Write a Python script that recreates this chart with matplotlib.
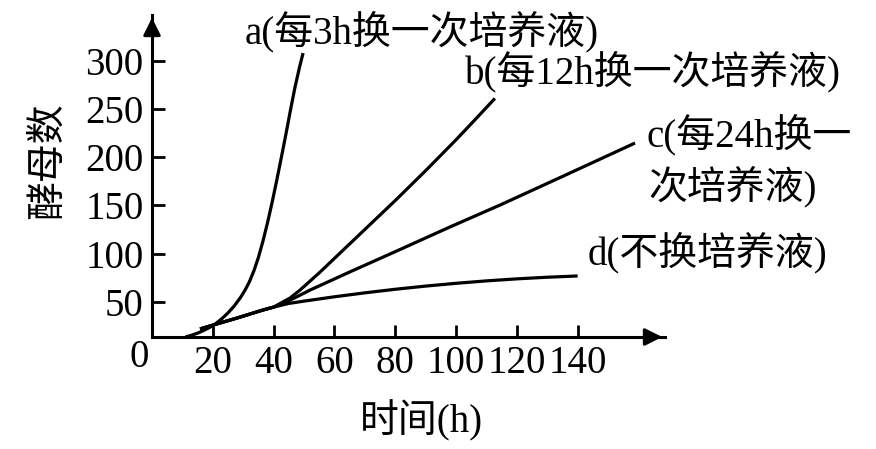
import matplotlib
matplotlib.use("Agg")
import matplotlib.pyplot as plt

plt.rcParams['font.family'] = ['Liberation Serif', 'Noto Sans CJK SC']

# ==========================================
# Data (time in h, yeast count)
# ==========================================
# common start of curves b, c, d
shared_t = [15.8, 20.1, 28, 36.5, 40]
shared_y = [21.8, 25.9, 33.2, 41.5, 44.5]

a_t = [11, 13, 15, 17, 19, 21, 23, 25, 27, 29, 30.5, 32, 33.5, 35, 36.5, 38,
       39.5, 41, 42.5, 44, 45.5, 47, 48.5, 49.7]
a_y = [13.5, 15.3, 17.5, 20.3, 23.5, 27.5, 32.5, 38.5, 45.5, 54, 61.5, 70.5,
       82, 96, 113, 132, 153, 175.5, 199, 223, 248, 272, 293, 308]

b_t = shared_t + [45.4, 48.7, 55, 60, 70, 80, 90, 100, 106, 112.8]
b_y = shared_y + [53.9, 62.2, 80, 95, 125, 155, 186, 218, 238, 261]

c_t = shared_t + [45, 52, 65, 80, 98, 114.5, 135, 158.9]
c_y = shared_y + [51, 62.2, 80.9, 102, 127.6, 150.4, 180, 214.7]

d_t = shared_t + [45, 50, 60, 70, 80, 90, 100, 110, 120, 130, 140]
d_y = shared_y + [48.3, 50.7, 55.2, 59.3, 63, 66.3, 69.2, 71.7, 73.8, 75.5, 76.8]

x_ticks = [20, 40, 60, 80, 100, 120, 140]
y_ticks = [50, 100, 150, 200, 250, 300]

FS = 28

# ==========================================
# Figure
# ==========================================
fig = plt.figure(figsize=(8.76, 4.49), dpi=100)
ax = fig.add_axes([152 / 876, 112 / 449, 513 / 876, 322 / 449])
ax.set_xlim(0, 168.75)
ax.set_ylim(13.5, 347.5)

for t, y in [(a_t, a_y), (b_t, b_y), (c_t, c_y), (d_t, d_y)]:
    ax.plot(t, y, color='black', lw=2.3, solid_capstyle='butt', solid_joinstyle='round')

# axes: only left/bottom with arrow heads
for side in ['top', 'right']:
    ax.spines[side].set_visible(False)
for side in ['left', 'bottom']:
    ax.spines[side].set_linewidth(2.2)
ax.annotate('', xy=(1.0, 0), xytext=(0.96, 0), xycoords='axes fraction',
            arrowprops=dict(arrowstyle='-|>', color='black', lw=2.2, mutation_scale=26))
ax.annotate('', xy=(0, 1.0), xytext=(0, 0.94), xycoords='axes fraction',
            arrowprops=dict(arrowstyle='-|>', color='black', lw=2.2, mutation_scale=26))

ax.set_xticks(x_ticks)
ax.set_yticks(y_ticks)
ax.tick_params(direction='in', length=9, width=2, labelsize=FS, pad=6)

ax.text(-4.3, -7.3, '0', fontsize=FS, ha='center', va='center', clip_on=False)

ax.set_xlabel('时间(h)', fontsize=FS, va='center')
ax.xaxis.set_label_coords(0.525, -0.261)
ax.set_ylabel('酵母数', fontsize=FS, va='center')
ax.yaxis.set_label_coords(-0.2, 0.547)

# curve labels
ax.text(30.6, 330, 'a(每3h换一次培养液)', fontsize=FS, ha='left', va='center', clip_on=False)
ax.text(103, 288.4, 'b(每12h换一次培养液)', fontsize=FS, ha='left', va='center', clip_on=False)
ax.text(162.8, 223, 'c(每24h换一', fontsize=FS, ha='left', va='center', clip_on=False)
ax.text(163.4, 168, '次培养液)', fontsize=FS, ha='left', va='center', clip_on=False)
ax.text(143.4, 100.6, 'd(不换培养液)', fontsize=FS, ha='left', va='center', clip_on=False)

fig.savefig('out.png', dpi=100)
